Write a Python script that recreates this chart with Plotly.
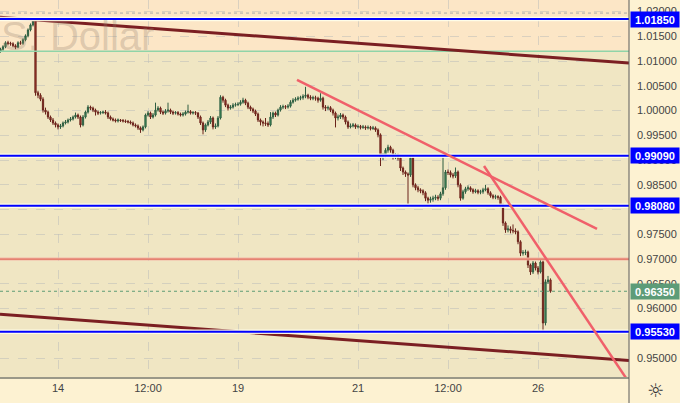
import pandas as pd
import plotly.graph_objects as go

# ---------------- data (hourly EUR/USD candles) ----------------
open_ = [1.0120,1.0124,1.0129,1.0137,1.0136,1.0135,1.0131,1.0128,1.0137,1.0136,1.0143,1.0151,1.0163,1.0173,1.0181,1.0036,1.0031,1.0023,1.0001,0.9997,
0.9987,0.9981,0.9975,0.9971,0.9967,0.9969,0.9975,0.9977,0.9981,0.9983,0.9987,0.9991,0.9987,0.9971,0.9987,0.9997,1.0007,1.0005,1.0001,0.9997,
0.9995,0.9996,0.9997,0.9995,0.9987,0.9983,0.9981,0.9979,0.9981,0.9980,0.9979,0.9978,0.9977,0.9975,0.9971,0.9969,0.9965,0.9961,0.9967,0.9991,
0.9995,0.9987,0.9991,1.0001,1.0005,0.9997,0.9995,0.9999,1.0001,0.9997,0.9995,0.9996,0.9993,0.9991,0.9993,0.9997,0.9998,0.9995,0.9996,0.9995,
0.9987,0.9975,0.9961,0.9971,0.9977,0.9985,0.9967,0.9969,0.9985,1.0027,1.0021,1.0011,1.0005,1.0007,1.0011,1.0012,1.0013,1.0017,1.0021,1.0015,
1.0007,1.0003,0.9999,0.9993,0.9981,0.9977,0.9975,0.9974,0.9971,0.9987,0.9995,0.9991,1.0001,1.0007,1.0008,1.0007,1.0009,1.0017,1.0021,1.0023,
1.0025,1.0026,1.0029,1.0031,1.0027,1.0025,1.0026,1.0025,1.0021,1.0025,1.0007,1.0005,1.0006,1.0001,0.9995,0.9985,0.9987,0.9991,0.9987,0.9977,
0.9967,0.9969,0.9971,0.9967,0.9968,0.9966,0.9967,0.9965,0.9966,0.9964,0.9965,0.9961,0.9951,0.9906,0.9910,0.9920,0.9926,0.9920,0.9906,0.9910,
0.9904,0.9884,0.9876,0.9872,0.9870,0.9904,0.9850,0.9844,0.9840,0.9838,0.9834,0.9823,0.9819,0.9821,0.9823,0.9825,0.9823,0.9832,0.9844,0.9876,
0.9875,0.9870,0.9868,0.9876,0.9850,0.9823,0.9836,0.9842,0.9844,0.9840,0.9836,0.9838,0.9835,0.9836,0.9840,0.9842,0.9834,0.9828,0.9825,0.9826,
0.9825,0.9809,0.9773,0.9759,0.9761,0.9758,0.9757,0.9755,0.9735,0.9712,0.9713,0.9714,0.9688,0.9674,0.9692,0.9682,0.9674,0.9694,0.9571,0.9654,
0.9658]

high = [1.0127,1.0132,1.0140,1.0141,1.0139,1.0138,1.0134,1.0140,1.0141,1.0146,1.0154,1.0166,1.0176,1.0186,1.0184,1.0040,1.0035,1.0027,1.0006,1.0000,
0.9990,0.9985,0.9978,0.9974,0.9973,0.9978,0.9981,0.9984,0.9987,0.9990,0.9996,0.9994,0.9990,0.9991,1.0000,1.0011,1.0010,1.0008,1.0004,1.0000,
0.9999,1.0000,1.0001,0.9998,0.9990,0.9986,0.9984,0.9984,0.9983,0.9983,0.9982,0.9981,0.9980,0.9978,0.9974,0.9972,0.9968,0.9970,0.9994,0.9999,
0.9998,0.9995,1.0016,1.0009,1.0008,1.0000,1.0003,1.0016,1.0004,1.0000,0.9999,0.9999,0.9996,0.9997,1.0000,1.0012,1.0001,0.9999,0.9999,0.9997,
0.9990,0.9978,0.9974,0.9981,0.9989,0.9988,0.9974,0.9989,1.0031,1.0030,1.0024,1.0014,1.0011,1.0015,1.0016,1.0017,1.0021,1.0026,1.0024,1.0018,
1.0010,1.0006,1.0002,0.9996,0.9984,0.9980,0.9985,0.9978,0.9997,0.9998,0.9998,1.0004,1.0011,1.0012,1.0011,1.0013,1.0021,1.0025,1.0027,1.0029,
1.0030,1.0033,1.0048,1.0034,1.0031,1.0030,1.0030,1.0028,1.0035,1.0028,1.0011,1.0010,1.0009,1.0004,0.9998,0.9992,0.9995,0.9994,0.9990,0.9980,
0.9974,0.9975,0.9974,0.9972,0.9971,0.9971,0.9970,0.9970,0.9969,0.9969,0.9968,0.9964,0.9954,0.9914,0.9924,0.9931,0.9929,0.9923,0.9914,0.9913,
0.9907,0.9887,0.9879,0.9875,0.9908,0.9907,0.9853,0.9848,0.9843,0.9841,0.9837,0.9826,0.9826,0.9828,0.9830,0.9829,0.9836,0.9908,0.9880,0.9881,
0.9879,0.9874,0.9885,0.9879,0.9853,0.9840,0.9846,0.9849,0.9847,0.9843,0.9842,0.9841,0.9840,0.9844,0.9850,0.9845,0.9837,0.9831,0.9830,0.9829,
0.9828,0.9812,0.9776,0.9768,0.9766,0.9770,0.9762,0.9758,0.9738,0.9718,0.9719,0.9717,0.9691,0.9696,0.9695,0.9686,0.9702,0.9697,0.9659,0.9666,
0.9661]

low = [1.0117,1.0121,1.0126,1.0132,1.0131,1.0128,1.0124,1.0126,1.0133,1.0133,1.0140,1.0148,1.0160,1.0170,1.0030,1.0025,1.0019,0.9996,0.9992,0.9983,
0.9977,0.9971,0.9966,0.9962,0.9963,0.9966,0.9972,0.9974,0.9978,0.9980,0.9984,0.9983,0.9966,0.9968,0.9984,0.9994,1.0001,0.9997,0.9990,0.9991,
0.9992,0.9993,0.9992,0.9983,0.9980,0.9978,0.9976,0.9976,0.9977,0.9976,0.9975,0.9974,0.9972,0.9968,0.9966,0.9961,0.9955,0.9958,0.9964,0.9988,
0.9983,0.9984,0.9988,0.9998,0.9993,0.9991,0.9992,0.9996,0.9993,0.9991,0.9992,0.9990,0.9988,0.9988,0.9990,0.9994,0.9992,0.9992,0.9991,0.9983,
0.9971,0.9952,0.9957,0.9968,0.9973,0.9962,0.9963,0.9966,0.9982,1.0016,1.0007,1.0000,1.0002,1.0004,1.0008,1.0009,1.0010,1.0014,1.0011,1.0003,
0.9999,0.9995,0.9989,0.9977,0.9970,0.9968,0.9969,0.9967,0.9968,0.9983,0.9987,0.9988,0.9998,1.0003,1.0003,1.0004,1.0006,1.0014,1.0018,1.0020,
1.0021,1.0022,1.0025,1.0023,1.0021,1.0021,1.0020,1.0016,1.0018,1.0002,0.9999,1.0001,0.9997,0.9990,0.9966,0.9980,0.9983,0.9982,0.9972,0.9963,
0.9964,0.9966,0.9963,0.9964,0.9962,0.9963,0.9961,0.9962,0.9960,0.9961,0.9957,0.9946,0.9888,0.9900,0.9905,0.9915,0.9915,0.9901,0.9902,0.9899,
0.9878,0.9870,0.9866,0.9811,0.9866,0.9845,0.9839,0.9835,0.9833,0.9829,0.9817,0.9812,0.9814,0.9816,0.9819,0.9818,0.9819,0.9828,0.9840,0.9870,
0.9865,0.9863,0.9864,0.9845,0.9818,0.9820,0.9832,0.9838,0.9836,0.9832,0.9833,0.9831,0.9831,0.9832,0.9837,0.9830,0.9824,0.9821,0.9821,0.9820,
0.9804,0.9767,0.9753,0.9754,0.9752,0.9752,0.9750,0.9730,0.9706,0.9707,0.9708,0.9682,0.9668,0.9670,0.9677,0.9669,0.9671,0.9553,0.9566,0.9650,
0.9632]

close = [1.0124,1.0129,1.0137,1.0136,1.0135,1.0131,1.0128,1.0137,1.0136,1.0143,1.0151,1.0163,1.0173,1.0181,1.0036,1.0031,1.0023,1.0001,0.9997,0.9987,
0.9981,0.9975,0.9971,0.9967,0.9969,0.9975,0.9977,0.9981,0.9983,0.9987,0.9991,0.9987,0.9971,0.9987,0.9997,1.0007,1.0005,1.0001,0.9997,0.9995,
0.9996,0.9997,0.9995,0.9987,0.9983,0.9981,0.9979,0.9981,0.9980,0.9979,0.9978,0.9977,0.9975,0.9971,0.9969,0.9965,0.9961,0.9967,0.9991,0.9995,
0.9987,0.9991,1.0001,1.0005,0.9997,0.9995,0.9999,1.0001,0.9997,0.9995,0.9996,0.9993,0.9991,0.9993,0.9997,0.9998,0.9995,0.9996,0.9995,0.9987,
0.9975,0.9961,0.9971,0.9977,0.9985,0.9967,0.9969,0.9985,1.0027,1.0021,1.0011,1.0005,1.0007,1.0011,1.0012,1.0013,1.0017,1.0021,1.0015,1.0007,
1.0003,0.9999,0.9993,0.9981,0.9977,0.9975,0.9974,0.9971,0.9987,0.9995,0.9991,1.0001,1.0007,1.0008,1.0007,1.0009,1.0017,1.0021,1.0023,1.0025,
1.0026,1.0029,1.0031,1.0027,1.0025,1.0026,1.0025,1.0021,1.0025,1.0007,1.0005,1.0006,1.0001,0.9995,0.9985,0.9987,0.9991,0.9987,0.9977,0.9967,
0.9969,0.9971,0.9967,0.9968,0.9966,0.9967,0.9965,0.9966,0.9964,0.9965,0.9961,0.9951,0.9906,0.9910,0.9920,0.9926,0.9920,0.9906,0.9910,0.9904,
0.9884,0.9876,0.9872,0.9870,0.9904,0.9850,0.9844,0.9840,0.9838,0.9834,0.9823,0.9819,0.9821,0.9823,0.9825,0.9823,0.9832,0.9844,0.9876,0.9875,
0.9870,0.9868,0.9876,0.9850,0.9823,0.9836,0.9842,0.9844,0.9840,0.9836,0.9838,0.9835,0.9836,0.9840,0.9842,0.9834,0.9828,0.9825,0.9826,0.9825,
0.9809,0.9773,0.9759,0.9761,0.9758,0.9757,0.9755,0.9735,0.9712,0.9713,0.9714,0.9688,0.9674,0.9692,0.9682,0.9674,0.9694,0.9571,0.9654,0.9658,
0.9635]

# horizontal levels
level_prices = [1.0185, 0.9909, 0.9808, 0.9553]
level_labels = ["1.01850", "0.99090", "0.98080", "0.95530"]
last_price = 0.9635
last_label = "0.96350"
red_level = 0.9700
zone_edge = 1.0120
dotted_top = 1.0197

# channel and trend lines (time, price)
chan_top_t = ["2022-09-13 00:48", "2022-09-27 12:24"]
chan_top_p = [1.01885, 1.00961]
chan_bot_t = ["2022-09-13 00:48", "2022-09-27 12:24"]
chan_bot_p = [0.95885, 0.94952]
trend_a_t = ["2022-09-19 23:36", "2022-09-26 23:36"]
trend_a_p = [1.00618, 0.97608]
trend_b_t = ["2022-09-23 02:24", "2022-09-27 12:00"]
trend_b_p = [0.98881, 0.94538]

x_tick_vals = ["2022-09-14 00:00", "2022-09-15 12:00", "2022-09-19 00:00",
               "2022-09-21 00:00", "2022-09-22 12:00", "2022-09-26 00:00"]
x_tick_text = ["14", "12:00", "19", "21", "12:00", "26"]
y_tick_vals = [0.950, 0.955, 0.960, 0.965, 0.970, 0.975, 0.980, 0.985, 0.990,
               0.995, 1.000, 1.005, 1.010, 1.015, 1.020]
y_range = [0.94618, 1.02234]
x_range = ["2022-09-13 00:48", "2022-09-27 12:24"]

# hourly trading-time index (weekends skipped)
times = [t for t in pd.date_range("2022-09-13 01:00", "2022-09-26 05:00", freq="h")
         if t.weekday() < 5]

FONT = "Liberation Sans"
fig = go.Figure()

# top zone
fig.add_shape(type="rect", xref="paper", x0=0, x1=1, yref="y", y0=zone_edge, y1=y_range[1],
              fillcolor="#fce6c6", line_width=0, layer="below")

def hline(price, color, width, dash="solid"):
    fig.add_trace(go.Scatter(x=x_range, y=[price, price], mode="lines",
                             line=dict(color=color, width=width, dash=dash),
                             hoverinfo="skip", showlegend=False))

hline(dotted_top, "#a8a8a8", 1, "dot")
hline(zone_edge, "#8fd4a8", 1.5)
hline(red_level, "#f4b8a8", 3)
hline(red_level, "#e0705e", 1.2)
hline(last_price, "#5d9c76", 1, "dot")

# channel lines
for tx, py in [(chan_top_t, chan_top_p), (chan_bot_t, chan_bot_p)]:
    fig.add_trace(go.Scatter(x=tx, y=py, mode="lines", line=dict(color="#7b1f22", width=3),
                             hoverinfo="skip", showlegend=False))

# candles
fig.add_trace(go.Candlestick(
    x=times, open=open_, high=high, low=low, close=close,
    increasing=dict(fillcolor="#3f9a62", line=dict(color="#2e5d40", width=1)),
    decreasing=dict(fillcolor="#b23a2e", line=dict(color="#6a231b", width=1)),
    whiskerwidth=0, showlegend=False, hoverinfo="skip"))

# blue support / resistance levels
for p in level_prices:
    hline(p, "rgba(255,255,235,0.9)", 4.5)
    hline(p, "#0000ff", 2)

# trend lines
for tx, py in [(trend_a_t, trend_a_p), (trend_b_t, trend_b_p)]:
    fig.add_trace(go.Scatter(x=tx, y=py, mode="lines", line=dict(color="#f0606a", width=2.5),
                             hoverinfo="skip", showlegend=False))

# price labels on the axis
for p, t in zip(level_prices, level_labels):
    fig.add_annotation(xref="paper", x=1, xanchor="left", xshift=1, yref="y", y=p,
                       text="<b>" + t + "</b>", showarrow=False, bgcolor="#0000ff",
                       font=dict(family=FONT, size=11, color="white"), width=46, height=13,
                       borderpad=1)
fig.add_annotation(xref="paper", x=1, xanchor="left", xshift=1, yref="y", y=last_price,
                   text="<b>" + last_label + "</b>", showarrow=False, bgcolor="#5d9c78",
                   font=dict(family=FONT, size=11, color="white"), width=46, height=13,
                   borderpad=1)

# watermark
fig.add_annotation(xref="paper", yref="paper", x=156 / 629, y=1 - 36 / 377, xanchor="right",
                   yanchor="middle", text="U.S. Dollar", showarrow=False,
                   font=dict(family=FONT, size=40, color="rgba(150,130,110,0.3)"))

# settings icon
fig.add_annotation(xref="paper", yref="paper", x=655 / 629, y=(377 - 390) / 377,
                   xanchor="center", yanchor="middle",
                   text="☼", showarrow=False, font=dict(family="DejaVu Sans", size=19, color="#333"))

# right axis / bottom axis separator
fig.add_shape(type="line", xref="paper", x0=1, x1=1, yref="paper", y0=-0.08, y1=1,
              line=dict(color="#5a5a5a", width=1))

fig.update_layout(
    width=680, height=403,
    margin=dict(l=0, r=51, t=0, b=26),
    paper_bgcolor="#fdf2d2", plot_bgcolor="#f0e6c3",
    showlegend=False,
    font=dict(family=FONT, size=11, color="#444"),
    xaxis=dict(type="date", range=x_range, rangeslider=dict(visible=False),
               rangebreaks=[dict(bounds=["sat", "mon"])],
               tickmode="array", tickvals=x_tick_vals, ticktext=x_tick_text,
               showgrid=True, gridcolor="rgba(190,190,185,0.55)", griddash="dash", gridwidth=1,
               showline=True, linecolor="#9a9888", linewidth=2, ticks="",
               tickfont=dict(family=FONT, size=11, color="#444"), zeroline=False),
    yaxis=dict(side="right", range=y_range, tickmode="array", tickvals=y_tick_vals,
               ticktext=["%.5f" % v for v in y_tick_vals],
               showgrid=True, gridcolor="rgba(190,190,185,0.55)", griddash="dash", gridwidth=1,
               showline=False, ticks="", ticklabelstandoff=7,
               tickfont=dict(family=FONT, size=11, color="#444"), zeroline=False),
)

fig.write_html("out.html", config={"displayModeBar": False},
               post_script="document.body.style.margin='0px';")
